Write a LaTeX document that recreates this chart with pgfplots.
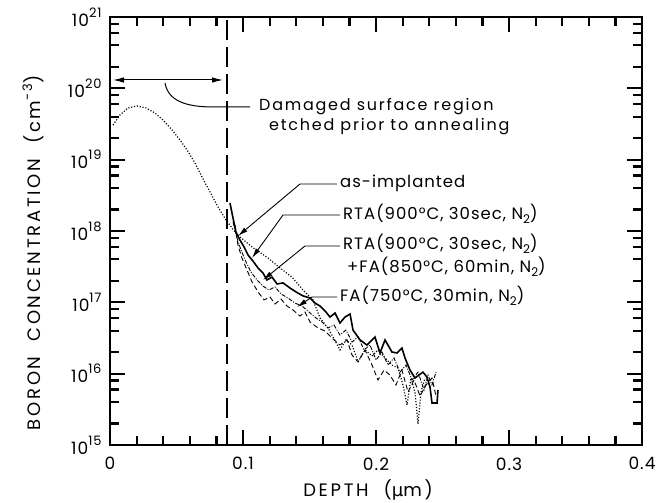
\documentclass[border=0pt]{standalone}
\usepackage{pgfplots}
\pgfplotsset{compat=1.18}
\usepackage{fontspec}
\setmainfont{Poppins}
\newfontfamily\mufont{DejaVu Sans}
\newfontfamily\lblfont[LetterSpace=6]{Poppins}
\newfontfamily\widefont[LetterSpace=11]{Poppins}
\newfontfamily\axfont[LetterSpace=15]{Poppins}
\usetikzlibrary{arrows.meta}
\newcommand\tenpow[1]{10\raisebox{9pt}{\fontsize{13}{14}\selectfont #1}}
\newcommand\Ntwo{N\raisebox{-3.5pt}{\fontsize{12}{13}\selectfont 2}}
\begin{document}
\begin{tikzpicture}
\begin{axis}[at={(110pt,58pt)}, anchor=south west, scale only axis,
  width=532pt, height=428pt,
  ymode=log, xmin=0, xmax=0.4, ymin=1e15, ymax=1e21,
  axis line style={line width=1.8pt},
  xtick={0,0.1,0.2,0.3,0.4}, xticklabels={0,0.1,0.2,0.3,0.4},
  minor xtick={0.02,0.04,0.06,0.08,0.12,0.14,0.16,0.18,0.22,0.24,0.26,0.28,0.32,0.34,0.36,0.38},
  ytick={1e15,1e16,1e17,1e18,1e19,1e20,1e21},
  yticklabels={\tenpow{15},\tenpow{16},\tenpow{17},\tenpow{18},\tenpow{19},\tenpow{20},\tenpow{21}},
  minor ytick={2e15,4e15,6e15,8e15,2e16,4e16,6e16,8e16,2e17,4e17,6e17,8e17,2e18,4e18,6e18,8e18,2e19,4e19,6e19,8e19,2e20,4e20,6e20,8e20},
  tick align=inside, tick pos=both,
  major tick length=15pt, minor tick length=9pt,
  tick style={black, line width=2.2pt},
  ticklabel style={font=\lblfont\fontsize{17}{19}\selectfont},
  xticklabel style={yshift=-9pt},
  yticklabel style={xshift=-5pt},
]
% as-implanted (dotted)
\addplot[black, line width=1.2pt, dash pattern=on 1.1pt off 1.8pt] coordinates {
(0.0023,3.06e19)(0.0075,4.23e19)(0.0135,5.30e19)(0.0203,5.65e19)(0.0271,5.30e19)
(0.0338,4.51e19)(0.0398,3.60e19)(0.0466,2.61e19)(0.0526,1.89e19)(0.0579,1.37e19)
(0.0639,8.97e18)(0.0692,5.71e18)(0.0752,3.52e18)(0.0812,2.17e18)(0.0872,1.43e18)
(0.0940,9.68e17)(0.0977,8.24e17)(0.1068,5.97e17)(0.1188,4.18e17)(0.1278,3.03e17)
(0.1368,2.26e17)(0.1451,1.49e17)(0.1526,1.08e17)(0.1579,6.03e16)(0.1639,4.37e16)
(0.1677,3.27e16)(0.1729,2.15e16)(0.1774,2.97e16)(0.1820,2.52e16)(0.1865,1.46e16)
(0.1917,2.15e16)(0.1970,1.77e16)(0.2015,2.15e16)(0.2068,1.66e16)(0.2120,1.32e16)
(0.2165,1.20e16)(0.2203,6.93e15)(0.2233,3.64e15)(0.2263,8.69e15)(0.2293,5.53e15)
(0.2316,1.97e15)(0.2338,5.53e15)(0.2368,8.69e15)
};
% RTA (solid)
\addplot[black, line width=1.6pt] coordinates {
(0.0902,2.47e18)(0.0925,1.52e18)(0.0947,9.68e17)(0.0977,7.48e17)(0.1008,5.97e17)
(0.1038,4.60e17)(0.1075,3.79e17)(0.1113,3.03e17)(0.1150,2.58e17)(0.1180,2.06e17)
(0.1218,2.26e17)(0.1256,1.81e17)(0.1301,1.87e17)(0.1353,1.59e17)(0.1398,1.40e17)
(0.1451,1.23e17)(0.1504,1.15e17)(0.1541,9.77e16)(0.1579,8.87e16)(0.1624,7.31e16)
(0.1654,6.22e16)(0.1692,7.08e16)(0.1729,5.13e16)(0.1767,6.22e16)(0.1805,6.86e16)
(0.1827,4.09e16)(0.1880,2.97e16)(0.1932,2.52e16)(0.1992,3.27e16)(0.2030,1.95e16)
(0.2068,2.97e16)(0.2120,2.01e16)(0.2158,1.95e16)(0.2195,2.29e16)(0.2218,1.66e16)
(0.2256,1.12e16)(0.2293,8.69e15)(0.2353,1.05e16)(0.2383,8.97e15)(0.2406,6.50e15)
(0.2421,3.88e15)(0.2459,3.88e15)(0.2466,5.90e15)
};
% RTA + FA
\addplot[black, line width=0.9pt, dash pattern=on 4pt off 1.5pt on 1pt off 1.5pt] coordinates {
(0.0925,1.34e18)(0.0955,7.98e17)(0.0985,5.42e17)(0.1023,3.67e17)(0.1060,2.66e17)
(0.1105,2.06e17)(0.1150,1.69e17)(0.1195,1.49e17)(0.1241,1.64e17)(0.1286,1.31e17)
(0.1338,1.15e17)(0.1391,9.77e16)(0.1444,8.87e16)(0.1496,7.31e16)(0.1549,6.03e16)
(0.1594,5.30e16)(0.1639,4.37e16)(0.1684,4.81e16)(0.1729,3.48e16)(0.1774,4.09e16)
(0.1820,2.78e16)(0.1865,3.27e16)(0.1910,2.15e16)(0.1955,2.52e16)(0.2000,1.55e16)
(0.2045,2.01e16)(0.2090,1.32e16)(0.2135,1.66e16)(0.2180,1.05e16)(0.2226,1.32e16)
(0.2271,8.15e15)(0.2316,1.05e16)(0.2361,5.90e15)(0.2391,9.57e15)(0.2421,6.93e15)
(0.2451,1.05e16)
};
% FA (dashed)
\addplot[black, line width=0.9pt, dash pattern=on 5pt off 3pt] coordinates {
(0.0940,1.21e18)(0.0962,6.37e17)(0.0992,4.18e17)(0.1030,2.84e17)(0.1068,1.93e17)
(0.1113,1.40e17)(0.1158,1.08e17)(0.1203,1.19e17)(0.1241,9.47e16)(0.1286,1.11e17)
(0.1331,8.87e16)(0.1376,7.80e16)(0.1429,6.43e16)(0.1466,7.31e16)(0.1504,5.30e16)
(0.1564,4.37e16)(0.1617,3.96e16)(0.1669,3.16e16)(0.1729,2.52e16)(0.1782,2.97e16)
(0.1820,1.82e16)(0.1865,1.46e16)(0.1917,2.15e16)(0.1970,1.32e16)(0.2015,8.15e15)
(0.2060,1.12e16)(0.2105,9.57e15)(0.2150,6.93e15)(0.2195,1.12e16)(0.2241,5.53e15)
(0.2286,8.15e15)(0.2331,4.86e15)(0.2376,6.93e15)(0.2421,8.69e15)(0.2451,4.86e15)
};
% etched boundary
\draw[black, line width=1.1pt, dash pattern=on 20pt off 7pt] (axis cs:0.088,1e15) -- (axis cs:0.088,1e21);
\end{axis}
\begin{scope}[x=1pt,y=1pt]
\useasboundingbox (0,0) rectangle (667,503);
% annotations (picture coordinates)
\draw[line width=1pt, {Latex[length=11pt,width=5.5pt]}-{Latex[length=11pt,width=5.5pt]}] (113,423) -- (223,423);
\draw[line width=1pt] (165,420) to[out=-80,in=180] (215,396) -- (250,396);
\node[anchor=west, inner sep=0pt, font=\widefont\fontsize{16}{18}\selectfont] at (259,396) {Damaged surface region};
\node[anchor=west, inner sep=0pt, font=\widefont\fontsize{16}{18}\selectfont] at (269,376) {etched prior to annealing};
% leaders
\tikzset{lead/.style={line width=0.9pt, -{Latex[length=10pt,width=5pt]}}}
\draw[lead] (337,319) -- (300,319) -- (238,267);
\draw[lead] (340,288) -- (283,288) -- (252,245);
\draw[lead] (340,257) -- (305,257) -- (263,223);
\draw[lead] (337,206) -- (312,206) -- (297,196);
\begin{scope}[every node/.style={anchor=west, inner sep=0pt, font=\lblfont\fontsize{16.5}{18}\selectfont}]
\node at (340,320) {as-implanted};
\node at (343,289) {RTA(900°C, 30sec, \Ntwo)};
\node at (343,259) {RTA(900°C, 30sec, \Ntwo)};
\node at (347,236) {+FA(850°C, 60min, \Ntwo)};
\node at (340,207) {FA(750°C, 30min, \Ntwo)};
\end{scope}
\node[rotate=90, font=\axfont\fontsize{18}{20}\selectfont] at (33,250) {BORON\ \ CONCENTRATION\ \ (cm\raisebox{8pt}{\fontsize{13}{14}\selectfont -3})};
\node[font=\axfont\fontsize{18}{20}\selectfont] at (368,13) {DEPTH\ \ ({\mufont µ}m)};
\end{scope}
\end{tikzpicture}
\end{document}
